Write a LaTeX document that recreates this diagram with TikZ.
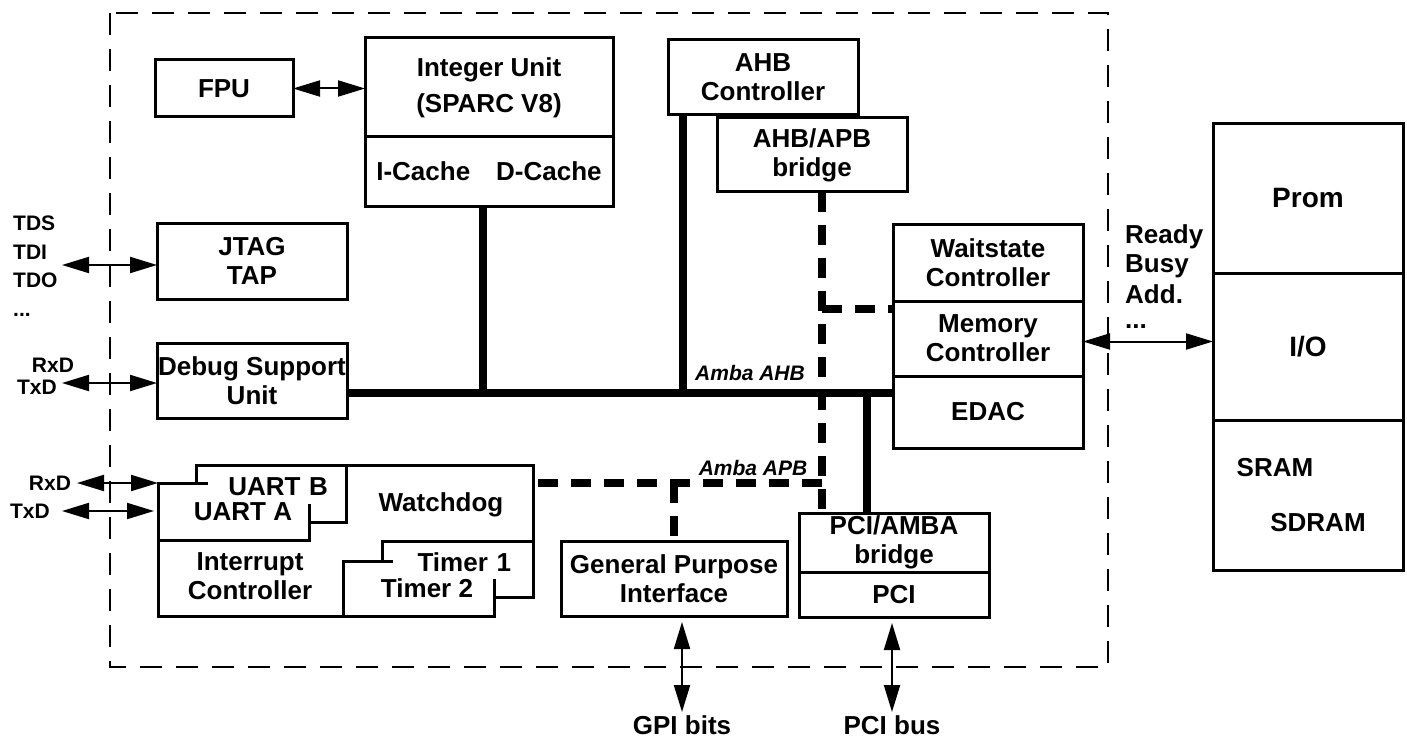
\documentclass[tikz,border=0pt]{standalone}
\usepackage{fontspec}
\setmainfont{Liberation Sans}
\usetikzlibrary{arrows.meta,positioning}

\begin{document}
\begin{tikzpicture}[
  x=1pt, y=-1pt,
  >={Triangle[length=27pt,width=16pt]},
  blk/.style={draw, line width=3pt, fill=white, inner sep=0pt, outer sep=0pt, align=center, font=\fontsize{26}{29}\selectfont\bfseries},
  lbl/.style={inner sep=0pt, align=center, font=\fontsize{26}{29}\selectfont\bfseries},
  pinlbl/.style={inner sep=0pt, font=\fontsize{21}{23}\selectfont\bfseries},
  buslbl/.style={inner sep=0pt, font=\fontsize{21}{23}\selectfont\bfseries\itshape},
  outl/.style={line width=3pt},
  sig/.style={<->, line width=2pt},
  ahbbus/.style={line width=8pt},
  apbbus/.style={line width=8pt, dash pattern=on 20pt off 13pt},
  chip/.style={line width=2.5pt, dash pattern=on 22pt off 14pt}
]
\useasboundingbox (0,0) rectangle (1407,738);

% Chip boundary
\draw[chip] (110,13) rectangle (1108,667);

% Processor core
\node[blk, minimum width=138pt, minimum height=57pt] (fpu) at (224,88.5) {FPU};
\node[blk, minimum width=248pt, minimum height=99pt] (iu) at (489,87.5) {Integer Unit\\[7pt](SPARC V8)};
\node[blk, minimum width=248pt, minimum height=69pt, below=0pt of iu] (cache) {I-Cache\quad D-Cache};

% AHB controller and bridge
\node[blk, minimum width=190pt, minimum height=75pt] (ahbc) at (763,77.5) {AHB\\Controller};
\node[blk, minimum width=190pt, minimum height=74pt] (bridge) at (812,155) {AHB/APB\\bridge};

% Debug side
\node[blk, minimum width=190pt, minimum height=76pt] (jtag) at (252,261) {JTAG\\TAP};
\node[blk, minimum width=190pt, minimum height=75pt] (dsu) at (252,380.5) {Debug Support\\Unit};

% Memory controller
\node[blk, minimum width=190pt, minimum height=77pt] (wait) at (988,262.5) {Waitstate\\Controller};
\node[blk, minimum width=190pt, minimum height=75pt, below=0pt of wait] (memc) {Memory\\Controller};
\node[blk, minimum width=190pt, minimum height=72pt, below=0pt of memc] (edac) {EDAC};

% PCI and GPI
\node[blk, minimum width=190pt, minimum height=59pt] (pcib) at (894,542.5) {PCI/AMBA\\bridge};
\node[blk, minimum width=190pt, minimum height=45pt, below=0pt of pcib] (pci) {PCI};
\node[blk, minimum width=226pt, minimum height=75pt] (gpi) at (674,578.5) {General Purpose\\Interface};

% External memory
\node[blk, minimum width=190pt, minimum height=149pt, font=\fontsize{28}{31}\selectfont\bfseries] (prom) at (1308,198.5) {Prom};
\node[blk, minimum width=190pt, minimum height=147pt, font=\fontsize{28}{31}\selectfont\bfseries, below=0pt of prom] (io) {I/O};
\node[blk, minimum width=190pt, minimum height=150pt, below=0pt of io] (ram) {};
\node[lbl] (sram) at (1275,468) {SRAM};
\node[lbl] (sdram) at (1318,523) {SDRAM};

% Peripheral cluster
\draw[outl] (196,465) -- (533,465) -- (533,597) -- (494,597) -- (494,616) -- (158,616) -- (158,483);
\coordinate (wdogport) at (533,483);
\node[blk, minimum width=151pt, minimum height=56pt] (tim1) at (457.5,569) {};
\node[blk, minimum width=151pt, minimum height=55pt] (tim2) at (418.5,588.5) {};
\node[lbl, fill=white, text width=118pt, align=right, minimum height=34pt] (tim1l) at (452,562) {Timer 1};
\node[lbl] (tim2l) at (427,588) {Timer 2};
\node[blk, minimum width=150pt, minimum height=57pt] (uartb) at (271,493.5) {};
\node[blk, minimum width=151pt, minimum height=57pt] (uarta) at (233.5,511.5) {};
\node[lbl, fill=white, text width=120pt, align=right, minimum height=34pt] (uartbl) at (268,487) {UART B};
\node[lbl] (uartal) at (243,512) {UART A};
\node[lbl] (wdog) at (441,505) {Watchdog};
\node[lbl] (intc) at (250,576.5) {Interrupt\\Controller};

% Amba AHB
\coordinate (ahbrow) at (0,393);
\draw[ahbbus] (dsu.east |- ahbrow) -- (edac.west |- ahbrow);
\draw[ahbbus] ([xshift=-6pt]cache.south) -- ([xshift=-6pt]cache.south |- ahbrow);
\draw[ahbbus] ([xshift=15pt]ahbc.south west) -- ([xshift=15pt]ahbc.south west |- ahbrow);
\draw[ahbbus] ([xshift=-27pt]pcib.north |- ahbrow) -- ([xshift=-27pt]pcib.north);
\node[buslbl] (ahbl) at (750,373) {Amba AHB};

% Amba APB
\coordinate (apbrow) at (0,483);
\draw[apbbus] ([xshift=10pt]bridge.south) -- ([xshift=10pt]bridge.south |- pcib.north);
\draw[apbbus] ([xshift=10pt]bridge.south |- wait.south) ++(0,8) -- ([yshift=-8pt]memc.north west);
\draw[apbbus] ([xshift=10pt]bridge.south |- apbrow) -- (wdogport);
\draw[apbbus] (gpi.north |- apbrow) -- (gpi.north);
\node[buslbl] (apbl) at (753,468) {Amba APB};

% External signals
\draw[sig] (fpu.east) -- (fpu.east -| iu.west);
\coordinate (jtagpin) at (62,265);
\draw[sig] (jtagpin) -- (jtagpin -| jtag.west);
\coordinate (dsupin) at (62,383);
\draw[sig] (dsupin) -- (dsupin -| dsu.west);
\coordinate (rxpin) at (77,483);
\draw[sig] (rxpin) -- (uarta.north west);
\coordinate (txpin) at (62,511);
\draw[sig] (txpin) -- ([xshift=-4pt]txpin -| uarta.west);
\draw[sig] ([yshift=-3pt]memc.east) -- ([yshift=-3pt]memc.east -| io.west);
\coordinate (gpibits) at (682,712);
\draw[sig] (gpibits) -- ([yshift=-6pt]gpibits |- gpi.south);
\coordinate (pcibus) at (892,712);
\draw[sig] (pcibus) -- ([yshift=-6pt]pcibus |- pci.south);

% Pin labels
\foreach \pin/\y in {TDS/223, TDI/252, TDO/280}
  \node[pinlbl, anchor=west] (\pin) at (13,\y) {\pin};
\node[pinlbl, anchor=west] (tdots) at (13,315) {...};
\node[pinlbl] (dsurx) at (53,365) {RxD};
\node[pinlbl] (dsutx) at (37,387) {TxD};
\node[pinlbl] (uartrx) at (50,483) {RxD};
\node[pinlbl] (uarttx) at (30,511) {TxD};
\foreach \sig/\y in {Ready/237, Busy/266, Add./294}
  \node[lbl, anchor=west] (s\y) at (1125,\y) {\sig};
\node[lbl, anchor=west] (sdots) at (1125,327) {...};
\node[lbl] (gpil) at (682,725) {GPI bits};
\node[lbl] (pcil) at (892,725) {PCI bus};

\end{tikzpicture}
\end{document}
